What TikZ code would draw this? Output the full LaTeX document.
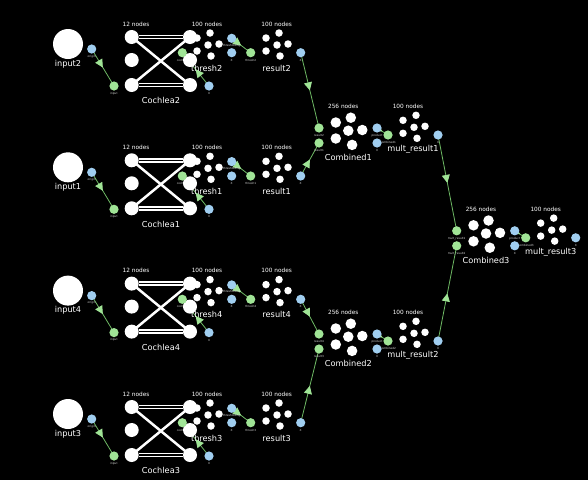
\documentclass[tikz,border=0pt]{standalone}
\usepackage{fontspec}
\setmainfont{DejaVu Sans}
\usetikzlibrary{arrows.meta,decorations.markings}
\definecolor{dotblue}{RGB}{160,206,240}
\definecolor{dotgreen}{RGB}{160,228,150}
\definecolor{linegreen}{RGB}{110,185,100}
\pgfdeclarelayer{bgfill}
\pgfdeclarelayer{lines}
\pgfdeclarelayer{labels}
\pgfsetlayers{bgfill,lines,labels,main}
\tikzset{
 wc/.style={circle,fill=white,inner sep=0pt,minimum size=7.5pt},
 wcb/.style={wc,minimum size=10.5pt},
 wcc/.style={wc,minimum size=14pt},
 wci/.style={wc,minimum size=30pt},
 ori/.style={circle,fill=dotblue,inner sep=0pt,minimum size=9.2pt},
 ter/.style={circle,fill=dotgreen,inner sep=0pt,minimum size=9.2pt},
 biglab/.style={text=white,font=\fontsize{8.2}{9}\selectfont,inner sep=0pt},
 cntlab/.style={text=white,font=\fontsize{5.8}{6.5}\selectfont,inner sep=0pt},
 tinylab/.style={text=white!85!black,font=\fontsize{2.8}{3}\selectfont,inner sep=0pt},
 conn/.style={draw=linegreen,line width=0.8pt,postaction={decorate},
   decoration={markings,mark=at position 0.5 with {\arrow{Triangle[length=8pt,width=8pt,color=dotgreen]}}}},
 cochline/.style={draw=white,line width=1.8pt,double=black,double distance=1.2pt},
 crossline/.style={draw=white,line width=2.5pt},
}
\newcommand\EnsSmall[1]{%
 \node[wc] (#1a) at (-11,-7) {};
 \node[wc] (#1b) at (2,-12) {};
 \node[wc] (#1c) at (0,0) {};
 \node[wc] (#1d) at (11,-1) {};
 \node[wc] (#1e) at (-11,6) {};
 \node[wc] (#1f) at (3,11) {};}
\newcommand\EnsBig[1]{%
 \node[wcb] (#1a) at (-12.5,-8.2) {};
 \node[wcb] (#1b) at (2.5,-13) {};
 \node[wcb] (#1c) at (0,0) {};
 \node[wcb] (#1d) at (14,-0.7) {};
 \node[wcb] (#1e) at (-12.5,7.8) {};
 \node[wcb] (#1f) at (3.8,14.2) {};}
\newcommand\RowB[2]{%
\begin{scope}[shift={(0,#2)}]
 \begin{pgfonlayer}{labels}
  \node[biglab] (inL#1) at (68,64) {input#1};
  \node[tinylab] (inOL#1) at (91.7,56.5) {origin};
  \node[tinylab] (coTL#1) at (114,93.5) {input};
  \node[cntlab] (coN#1) at (136,24) {12 nodes};
  \node[biglab] (coL#1) at (161,100.7) {Cochlea#1};
  \node[tinylab] (coOL#1) at (209,93.5) {X};
  \node[cntlab] (thN#1) at (207,24) {100 nodes};
  \node[biglab] (thL#1) at (206.7,68.3) {thresh#1};
  \node[tinylab] (thTL#1) at (182.3,60) {cochlea};
  \node[tinylab] (thOL#1) at (231.7,45.5) {thresholding};
  \node[tinylab] (thXL#1) at (231.7,60) {X};
  \node[tinylab] (reTL#1) at (250.7,60) {thresh#1};
  \node[cntlab] (reN#1) at (276.7,24) {100 nodes};
  \node[biglab] (reL#1) at (276.7,68.3) {result#1};
  \node[tinylab] (reXL#1) at (300.7,60) {X};
 \end{pgfonlayer}
 \node[wci] (in#1) at (68,44) {};
 \begin{scope}[shift={(208,45)}]\EnsSmall{th#1}\end{scope}
 \begin{scope}[shift={(277,45)}]\EnsSmall{re#1}\end{scope}
 \node[wcc] (c#1a) at (131.7,37) {};
 \node[wcc] (c#1b) at (131.7,60) {};
 \node[wcc] (c#1c) at (131.7,85) {};
 \node[wcc] (c#1d) at (190,37) {};
 \node[wcc] (c#1e) at (190,60) {};
 \node[wcc] (c#1f) at (190,85) {};
 \begin{pgfonlayer}{lines}
  \draw[cochline] (c#1a) -- (c#1d);
  \draw[cochline] (c#1c) -- (c#1f);
  \draw[crossline] (c#1a.center) -- (c#1f.center);
  \draw[crossline] (c#1c.center) -- (c#1d.center);
 \end{pgfonlayer}
 \node[ori] (inO#1) at (91.7,49) {};
 \node[ter] (coT#1) at (114,86) {};
 \node[ori] (coO#1) at (209,86) {};
 \node[ter] (thT#1) at (182.3,52.7) {};
 \node[ori] (thO#1) at (231.7,38.3) {};
 \node[ori] (thX#1) at (231.7,52.7) {};
 \node[ter] (reT#1) at (250.7,52.7) {};
 \node[ori] (reX#1) at (300.7,52.7) {};
\end{scope}}
\newcommand\CombB[5]{% #1 cx, #2 cy, #3 index, #4 #5 terminal labels
\begin{scope}[shift={(#1,#2)}]
 \begin{pgfonlayer}{labels}
  \node[cntlab] (cN#3) at (-5,-24) {256 nodes};
  \node[biglab] (cL#3) at (0,27) {Combined#3};
  \node[tinylab] (cTaL#3) at (-29.3,4.8) {#4};
  \node[tinylab] (cTbL#3) at (-29.3,19.8) {#5};
  \node[tinylab] (cPL#3) at (28.7,4.8) {product};
  \node[tinylab] (cXL#3) at (28.7,19.8) {X};
  \node[cntlab] (mN#3) at (59.7,-24) {100 nodes};
  \node[biglab] (mL#3) at (64.7,19) {mult\_result#3};
  \node[tinylab] (mTL#3) at (39.7,11.8) {Combined#3};
  \node[tinylab] (mXL#3) at (89.7,11.8) {X};
 \end{pgfonlayer}
 \EnsBig{cb#3}
 \begin{scope}[shift={(65.7,-3.4)}]\EnsSmall{mr#3}\end{scope}
 \node[ter] (cTa#3) at (-29.3,-2.7) {};
 \node[ter] (cTb#3) at (-29.3,12.3) {};
 \node[ori] (cP#3) at (28.7,-2.7) {};
 \node[ori] (cX#3) at (28.7,12.3) {};
 \node[ter] (mT#3) at (39.7,4.3) {};
 \node[ori] (mX#3) at (89.7,4.3) {};
\end{scope}}
\begin{document}
\begin{tikzpicture}[x=1pt,y=-1pt]
\begin{pgfonlayer}{bgfill}
 \fill[black] (0,0) rectangle (588,480);
\end{pgfonlayer}
\useasboundingbox (0,0) rectangle (588,480);
\RowB{2}{0}
\RowB{1}{123.3}
\RowB{4}{246.6}
\RowB{3}{370}
\CombB{348.3}{130.7}{1}{result2}{result1}
\CombB{348.3}{336.7}{2}{result4}{result3}
\CombB{486}{233.5}{3}{mult\_result1}{mult\_result2}
\begin{pgfonlayer}{lines}
 \foreach \i in {1,2,3,4} {
  \draw[conn] (inO\i.center) -- (coT\i.center);
  \draw[conn] (coO\i.center) -- (thT\i.center);
  \draw[conn] (thO\i.center) -- (reT\i.center);
 }
 \draw[conn] (reX2.center) -- (cTa1.center);
 \draw[conn] (reX1.center) -- (cTb1.center);
 \draw[conn] (reX4.center) -- (cTa2.center);
 \draw[conn] (reX3.center) -- (cTb2.center);
 \draw[conn] (mX1.center) -- (cTa3.center);
 \draw[conn] (mX2.center) -- (cTb3.center);
 \foreach \i in {1,2,3} {
  \draw[conn] (cP\i.center) -- (mT\i.center);
 }
\end{pgfonlayer}
\end{tikzpicture}
\end{document}
